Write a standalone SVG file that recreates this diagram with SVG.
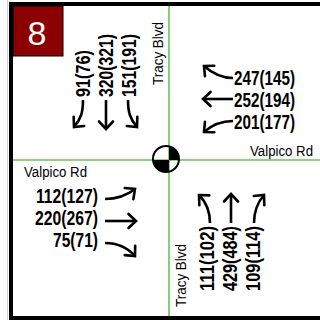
<svg xmlns="http://www.w3.org/2000/svg" width="320" height="320" viewBox="0 0 320 320">
<style>
.num{font-family:"Liberation Sans",Arial,sans-serif;font-weight:bold;font-size:19.5px;fill:#000}
.road{font-family:"Liberation Sans",Arial,sans-serif;font-size:14px;fill:#000}
.arr{fill:none;stroke:#000;stroke-width:2.6;marker-end:url(#ah)}
.grn{stroke:#66c455;stroke-width:1.6}
</style>
<defs>
<marker id="ah" markerUnits="userSpaceOnUse" markerWidth="20" markerHeight="20" refX="0" refY="0" viewBox="-10 -10 20 20" orient="auto">
<path d="M-7.5,-7 L0,0 L-7.5,7" fill="none" stroke="#000" stroke-width="2.6" stroke-linecap="round" stroke-linejoin="miter"/>
</marker>
<clipPath id="cc"><circle cx="166" cy="159" r="13"/></clipPath>
</defs>
<rect width="320" height="320" fill="#fff"/>
<line x1="7.5" y1="0" x2="7.5" y2="320" stroke="#d0d0d0" stroke-width="1"/>
<g id="frame">
<rect x="11" y="4" width="320" height="314" fill="none" stroke="#000" stroke-width="4"/>
</g>
<g id="roads">
<line class="grn" x1="169" y1="6" x2="169" y2="316"/>
<line class="grn" x1="13" y1="160" x2="320" y2="160"/>
</g>
<g id="center">
<g clip-path="url(#cc)">
<rect x="169" y="140" width="20" height="20" fill="#000"/>
<rect x="146" y="160" width="23" height="20" fill="#000"/>
</g>
<circle cx="166" cy="159" r="13" fill="none" stroke="#000" stroke-width="2"/>
</g>
<g id="badge">
<rect x="13" y="6" width="50" height="50" fill="#8b0000" stroke="#000" stroke-width="1"/>
<text x="37" y="45" font-family="Liberation Sans,Arial,sans-serif" font-size="34" fill="#fff" text-anchor="middle">8</text>
</g>
<g id="labels-roads">
<text class="road" transform="translate(163,85) rotate(-90)" textLength="63" lengthAdjust="spacingAndGlyphs">Tracy Blvd</text>
<text class="road" transform="translate(186,307) rotate(-90)" textLength="63" lengthAdjust="spacingAndGlyphs">Tracy Blvd</text>
<text class="road" x="250" y="156" textLength="63" lengthAdjust="spacingAndGlyphs">Valpico Rd</text>
<text class="road" x="24" y="177" textLength="63" lengthAdjust="spacingAndGlyphs">Valpico Rd</text>
</g>
<g id="south-bound">
<text class="num" transform="translate(90,97) rotate(-90)" textLength="47" lengthAdjust="spacingAndGlyphs">91(76)</text>
<text class="num" transform="translate(113,97) rotate(-90)" textLength="63" lengthAdjust="spacingAndGlyphs">320(321)</text>
<text class="num" transform="translate(136,97) rotate(-90)" textLength="63" lengthAdjust="spacingAndGlyphs">151(191)</text>
</g>
<g id="west-bound">
<text class="num" x="234" y="85" textLength="61" lengthAdjust="spacingAndGlyphs">247(145)</text>
<text class="num" x="234" y="107" textLength="61" lengthAdjust="spacingAndGlyphs">252(194)</text>
<text class="num" x="234" y="129" textLength="61" lengthAdjust="spacingAndGlyphs">201(177)</text>
</g>
<g id="east-bound">
<text class="num" x="98" y="203" text-anchor="end" textLength="62" lengthAdjust="spacingAndGlyphs">112(127)</text>
<text class="num" x="98" y="225" text-anchor="end" textLength="63" lengthAdjust="spacingAndGlyphs">220(267)</text>
<text class="num" x="98" y="247" text-anchor="end" textLength="45" lengthAdjust="spacingAndGlyphs">75(71)</text>
</g>
<g id="north-bound">
<text class="num" transform="translate(214,291) rotate(-90)" textLength="65" lengthAdjust="spacingAndGlyphs">111(102)</text>
<text class="num" transform="translate(237,291) rotate(-90)" textLength="65" lengthAdjust="spacingAndGlyphs">429(484)</text>
<text class="num" transform="translate(260,291) rotate(-90)" textLength="65" lengthAdjust="spacingAndGlyphs">109(114)</text>
</g>
<g id="connectors">
<path class="arr" d="M83,100 C83,112 81,119 74,127"/>
<path class="arr" d="M106,100 L106,129"/>
<path class="arr" d="M128,100 C128,112 130,119 137,127"/>
<path class="arr" d="M233,78 C222,78 213,74 204,66"/>
<path class="arr" d="M233,99 L203,99"/>
<path class="arr" d="M233,121 C222,121 213,124 204,132"/>
<path class="arr" d="M105,199 C116,199 126,196 135,189"/>
<path class="arr" d="M105,221 L136,221"/>
<path class="arr" d="M105,243 C116,243 126,246 135,256"/>
<path class="arr" d="M210,223 C210,211 207,203 199,195"/>
<path class="arr" d="M231,223 L231,194"/>
<path class="arr" d="M254,223 C254,211 257,203 264,195"/>
</g>
</svg>
